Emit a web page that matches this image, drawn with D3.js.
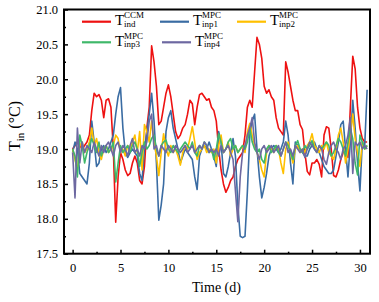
<!DOCTYPE html>
<html>
<head>
  <script src="https://d3js.org/d3.v7.min.js"></script>
  <style>
    body { margin: 0; background: #fff; }
    svg, svg text { font-family: "Liberation Serif", "Times New Roman", serif; }
  </style>
</head>
<body>
<div id="chart"></div>
<script>
  // sampling: one value every 0.25 day, from day 0
  const days = d3.range(0, 31, 0.25);

  // T_ind^CCM
  const ccm = [
    19.0, 19.05, 19.1, 19.05, 19.0, 19.05, 19.1, 19.2,
    19.55, 19.8, 19.75, 19.78, 19.7, 19.45, 19.7, 19.72,
    19.6, 19.0, 17.95, 18.6, 18.95, 18.85, 18.7, 18.62,
    18.65, 18.8, 18.9, 18.8, 18.55, 18.5, 18.75, 19.3,
    19.6, 20.48, 20.25, 19.9, 19.35, 19.4, 19.6, 19.8,
    19.92, 19.75, 19.5, 19.25, 19.15, 19.2, 19.3, 19.35,
    19.5, 19.7, 19.65, 19.35, 19.6, 19.78, 19.8, 19.75,
    19.7, 19.72, 19.6, 19.55, 19.4, 19.0, 18.7, 18.5,
    18.38, 18.45, 18.55, 18.6, 18.75, 18.85, 18.9, 18.95,
    19.2, 19.6, 19.7, 19.6, 20.1, 20.6, 20.5, 20.3,
    19.9, 19.8, 19.85, 19.75, 19.7, 19.45, 19.3, 19.25,
    19.2, 20.25, 20.1, 19.9, 19.7, 19.55, 19.55, 19.35,
    19.28, 18.95, 18.68, 18.63, 18.8, 18.8, 18.85, 18.78,
    18.6, 19.2, 19.32, 19.3, 19.0, 18.62, 18.6, 18.7,
    18.85, 18.95, 19.03, 18.88, 19.6, 20.33, 20.15, 19.6,
    19.3, 19.15, 19.1, 19.1
  ];

  // T_inp1^MPC
  const inp1 = [
    18.95, 19.1, 19.0, 18.65, 18.6, 18.55, 18.5, 18.8,
    19.4, 19.1, 18.75, 18.8, 19.0, 19.05, 18.95, 19.0,
    19.1, 19.2, 19.5, 19.75, 19.88, 19.3, 18.95, 18.88,
    18.95, 19.0, 18.95, 18.9, 18.65, 18.55, 19.0, 19.25,
    19.5, 19.8, 19.4, 18.8, 17.98, 18.2, 18.5, 19.25,
    19.45, 19.55, 19.3, 19.15, 19.0, 18.8, 18.9, 19.0,
    18.95, 18.9, 18.85, 18.6, 18.42, 18.9, 19.0, 19.05,
    19.0, 19.1, 19.0, 18.9, 18.75, 19.25, 19.1, 18.65,
    18.6, 18.75, 18.95, 19.15, 18.9, 18.2, 17.75, 17.73,
    17.75, 18.4, 19.2, 19.4, 19.5, 19.0, 18.6, 18.3,
    18.45, 18.65, 18.9, 19.0, 19.05, 19.0, 18.95, 19.0,
    19.1, 19.4, 19.2, 18.8, 18.5, 19.1, 19.05, 19.0,
    18.95, 18.9, 18.9, 19.0, 19.05, 19.1, 19.0, 18.95,
    18.85, 18.75, 18.7, 18.65, 18.65, 18.7, 18.9, 19.1,
    19.35, 19.4, 19.0, 18.6, 19.1, 19.7, 19.3, 18.8,
    18.4, 19.1, 19.05, 19.85
  ];

  // T_inp2^MPC
  const inp2 = [
    19.0, 18.85, 18.7, 19.05, 19.1, 18.95, 19.0, 19.1,
    19.3, 19.05, 19.15, 18.95, 18.85, 19.0, 19.05, 18.95,
    19.0, 19.05, 19.2, 19.15, 18.95, 19.0, 18.9, 19.05,
    19.0, 19.1, 19.2, 18.95, 19.25, 18.7, 19.35, 19.25,
    19.1, 19.4, 19.1, 18.9, 18.62, 18.95, 19.22, 19.0,
    18.9, 19.05, 18.95, 19.0, 18.9, 18.77, 18.95, 19.05,
    19.0, 19.15, 19.32, 19.1, 18.85, 18.95, 19.0, 19.05,
    18.95, 19.0, 18.95, 19.0, 18.8, 19.05, 19.2, 18.95,
    19.0, 19.1, 18.9, 19.0, 19.05, 18.95, 19.0, 19.05,
    18.95, 19.25, 19.37, 19.2, 19.05, 18.95, 18.85, 18.7,
    18.6, 18.95, 19.05, 19.0, 18.95, 19.05, 19.0, 18.8,
    18.65, 19.0, 19.1, 18.95, 18.8, 19.0, 19.05, 18.95,
    19.0, 18.95, 19.05, 19.1, 19.22, 19.05, 19.0, 18.95,
    19.05, 19.0, 19.1, 18.95, 18.9, 18.85, 19.0, 19.2,
    19.3, 19.1, 18.8, 19.0, 19.2, 19.5, 19.15, 18.95,
    18.75, 19.1, 19.0, 19.05
  ];

  // T_inp3^MPC
  const inp3 = [
    19.0, 18.9, 18.6, 19.2, 19.05, 18.8, 18.95, 19.05,
    19.15, 19.05, 18.95, 19.1, 18.9, 19.0, 19.05, 18.95,
    19.0, 19.1, 18.53, 18.8, 19.05, 18.95, 19.0, 19.05,
    18.95, 19.05, 19.1, 19.0, 18.75, 18.95, 19.1, 19.0,
    19.05, 19.15, 19.2, 19.0, 18.9, 19.05, 19.1, 19.13,
    19.0, 18.95, 19.05, 19.0, 18.95, 19.0, 19.05, 19.1,
    19.05, 19.0, 19.1, 18.95, 18.9, 19.05, 19.0, 19.1,
    19.05, 18.95, 19.0, 18.85, 19.0, 19.22, 19.1, 18.95,
    19.0, 19.1, 19.15, 19.0, 19.05, 18.95, 19.0, 19.05,
    19.0, 19.1, 19.3, 19.1, 19.0, 18.95, 19.0, 18.85,
    18.8, 19.0, 19.05, 18.95, 19.0, 19.05, 18.95, 18.9,
    19.0, 19.1, 19.05, 18.95, 18.85, 19.05, 19.12, 19.0,
    18.95, 19.05, 19.0, 19.05, 19.12, 19.0, 18.95, 19.05,
    19.0, 19.05, 19.1, 19.05, 18.9, 18.95, 19.05, 19.15,
    19.1, 19.0, 18.9, 19.1, 19.3, 19.15, 18.8, 18.63,
    19.2, 19.1, 19.0, 19.05
  ];

  // T_inp4^MPC
  const inp4 = [
    18.95, 18.3, 19.3, 18.8, 19.1, 18.95, 19.05, 19.0,
    18.95, 19.1, 19.0, 18.9, 19.05, 18.95, 19.05, 19.1,
    19.0, 18.9, 19.05, 19.1, 18.95, 19.05, 19.0, 18.9,
    19.05, 19.15, 18.95, 19.0, 18.9, 19.05, 19.0, 19.1,
    19.4, 19.5, 19.0, 19.05, 18.9, 19.05, 19.0, 18.95,
    19.05, 19.0, 18.95, 19.05, 19.0, 18.95, 19.0, 19.05,
    18.95, 19.0, 19.05, 18.95, 19.0, 19.05, 19.0, 19.1,
    19.05, 18.95, 19.0, 18.95, 19.0, 18.9, 19.05, 18.95,
    19.0, 19.05, 18.95, 18.85, 18.4, 17.96, 18.6, 18.95,
    19.05, 19.2, 19.3, 19.45, 19.1, 18.95, 18.85, 19.0,
    19.05, 18.95, 19.0, 19.05, 18.95, 19.0, 19.05, 18.9,
    19.0, 19.1, 18.95, 19.0, 18.9, 19.05, 19.0, 18.95,
    19.0, 18.88, 19.0, 19.1, 19.05, 19.0, 18.95, 19.05,
    19.0, 18.85, 18.78, 18.95, 19.05, 19.1, 19.0, 18.95,
    18.85, 19.0, 19.05, 19.2, 19.45, 18.65, 19.1, 19.05,
    19.1, 19.0, 19.05, 19.0
  ];

  const seriesNames = ["ccm", "inp1", "inp2", "inp3", "inp4"];
  const seriesValues = [ccm, inp1, inp2, inp3, inp4];
  const seriesSup = ["CCM", "MPC", "MPC", "MPC", "MPC"];
  const seriesSub = ["ind", "inp1", "inp2", "inp3", "inp4"];
  const colors = ["#ee1111", "#3a6ca3", "#ffc000", "#3fb86a", "#6d68a1"];

  const xTicks = [0, 5, 10, 15, 20, 25, 30];
  const xMinor = [2.5, 7.5, 12.5, 17.5, 22.5, 27.5];
  const yTicks = [17.5, 18.0, 18.5, 19.0, 19.5, 20.0, 20.5, 21.0];
  const yMinor = [17.75, 18.25, 18.75, 19.25, 19.75, 20.25, 20.75];

  const W = 379, H = 302;
  const L = 64, R = 370, T = 9.5, B = 253.7;
  const serif = "'Liberation Serif', 'Times New Roman', serif";

  const svg = d3.select("#chart").append("svg")
    .attr("width", W).attr("height", H)
    .style("font-family", serif);

  const x = d3.scaleLinear().domain([-0.9, 31.05]).range([L, R]);
  const y = d3.scaleLinear().domain([17.5, 21]).range([B, T]);

  // clip the lines to the frame
  svg.append("clipPath").attr("id", "plot")
    .append("rect").attr("x", L).attr("y", T).attr("width", R - L).attr("height", B - T);

  const line = d3.line()
    .x((d, i) => x(days[i]))
    .y(d => y(d));

  const g = svg.append("g").attr("clip-path", "url(#plot)");
  seriesValues.forEach((vals, k) => {
    g.append("path")
      .datum(vals)
      .attr("class", "line " + seriesNames[k])
      .attr("fill", "none")
      .attr("stroke", colors[k])
      .attr("stroke-width", 1.6)
      .attr("stroke-linejoin", "round")
      .attr("d", line);
  });

  // axes, ticks pointing inwards
  svg.append("g")
    .attr("transform", `translate(0,${B})`)
    .call(d3.axisBottom(x).tickValues(xTicks).tickSize(-4).tickPadding(9).tickFormat(d3.format("d")));
  svg.append("g")
    .attr("transform", `translate(0,${B})`)
    .call(d3.axisBottom(x).tickValues(xMinor).tickSize(-2).tickFormat(""));
  svg.append("g")
    .attr("transform", `translate(${L},0)`)
    .call(d3.axisLeft(y).tickValues(yTicks).tickSize(-4).tickPadding(6).tickFormat(d3.format(".1f")));
  svg.append("g")
    .attr("transform", `translate(${L},0)`)
    .call(d3.axisLeft(y).tickValues(yMinor).tickSize(-2).tickFormat(""));

  svg.selectAll(".domain").remove();
  svg.selectAll(".tick line").attr("stroke", "#000").attr("stroke-width", 1.5);
  svg.selectAll(".tick text")
    .attr("fill", "#000")
    .attr("font-family", null)
    .style("font-family", serif)
    .style("font-size", "12.5px");

  // frame
  svg.append("rect")
    .attr("x", L).attr("y", T)
    .attr("width", R - L).attr("height", B - T)
    .attr("fill", "none")
    .attr("stroke", "#000")
    .attr("stroke-width", 2);

  // axis titles
  svg.append("text")
    .attr("x", (L + R) / 2 - 0.5).attr("y", 291.5)
    .attr("text-anchor", "middle")
    .style("font-family", serif)
    .style("font-size", "14px")
    .text("Time (d)");

  const yt = svg.append("text")
    .attr("transform", "translate(20,126) rotate(-90)")
    .attr("text-anchor", "middle")
    .style("font-family", serif)
    .style("font-size", "16px");
  yt.append("tspan").text("T");
  yt.append("tspan").attr("dy", 4).style("font-size", "11px").text("in");
  yt.append("tspan").attr("dy", -4).text(" (\u00B0C)");

  // legend
  const legendPos = [
    { lx: 82, ly: 21.7 },
    { lx: 160, ly: 21.7 },
    { lx: 237, ly: 21.7 },
    { lx: 82, ly: 42.3 },
    { lx: 162, ly: 42.3 }
  ];
  const leg = svg.append("g").style("font-family", serif);
  seriesNames.forEach((n, k) => {
    const p = legendPos[k];
    leg.append("line")
      .attr("x1", p.lx).attr("x2", p.lx + 29)
      .attr("y1", p.ly).attr("y2", p.ly)
      .attr("stroke", colors[k]).attr("stroke-width", 2.2);
    const tx = p.lx + 33;
    leg.append("text")
      .attr("x", tx).attr("y", p.ly + 3.6)
      .style("font-size", "15px").text("T");
    leg.append("text")
      .attr("x", tx + 9).attr("y", p.ly - 3.6)
      .style("font-size", "9px").text(seriesSup[k]);
    leg.append("text")
      .attr("x", tx + 9).attr("y", p.ly + 5)
      .style("font-size", "9px").text(seriesSub[k]);
  });
</script>
</body>
</html>
